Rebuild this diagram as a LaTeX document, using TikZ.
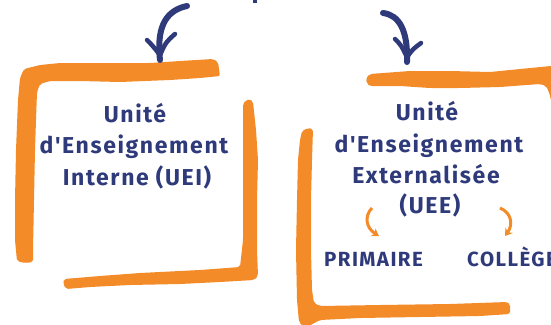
\documentclass[tikz,border=0pt]{standalone}
\usepackage{fontspec}
\usetikzlibrary{arrows.meta}
\newfontfamily\lblfont[LetterSpace=7]{Fira Sans}
\definecolor{navy}{HTML}{2F3A7B}
\definecolor{brush}{HTML}{F48B29}
\tikzset{
  brushshape/.style={fill=brush, draw=none, rounded corners=2pt},
  bigarrow/.style={draw=navy, line width=6pt, line cap=round},
  bigwing/.style={draw=navy, line width=4.5pt, line cap=round},
  smallarrow/.style={draw=brush, line width=3pt, -{Stealth[length=7pt,width=9pt]}},
  title/.style={font=\lblfont\bfseries\fontsize{23}{26}\selectfont, text=navy, anchor=base, inner sep=0pt},
  sub/.style={font=\lblfont\bfseries\fontsize{20.5}{24}\selectfont, text=navy, anchor=base, inner sep=0pt}
}
\begin{document}
\begin{tikzpicture}[x=1pt,y=-1pt]
\useasboundingbox[fill=white] (0,0) rectangle (551,324);
% fragment at top
\fill[navy] (253,0) rectangle (257,3);
% left box
\path[brushshape] (17,261) -- (15,240) -- (15,200) -- (16,150) -- (18,100) -- (20,78) -- (24,69) -- (40,65) -- (60,63) -- (100,63) -- (150,63) -- (180,61) -- (213,59) -- (218,62) -- (220,76) -- (200,78) -- (170,80) -- (120,82) -- (80,81) -- (50,81) -- (40,84) -- (37,92) -- (36,120) -- (35,150) -- (34,200) -- (33,250) -- (33,262) -- (25,263) -- cycle;
\path[brushshape] (245,101) -- (250,99) -- (253,102) -- (256,130) -- (258,160) -- (257,200) -- (257,250) -- (258,276) -- (254,280) -- (220,282) -- (180,284) -- (130,285) -- (90,287) -- (66,289) -- (63,283) -- (64,279) -- (100,276) -- (140,273) -- (200,270) -- (240,267) -- (243,240) -- (243,180) -- (243,130) -- (243,104) -- cycle;
% right box
\path[brushshape] (367,84) -- (366,78) -- (370,74) -- (410,71) -- (450,71) -- (490,72) -- (520,69) -- (551,66) -- (562,66) -- (562,300) -- (555,300) -- (553,110) -- (551,100) -- (549,92) -- (546,86) -- (540,84) -- (500,87) -- (460,88) -- (430,88) -- (400,86) -- (370,86) -- cycle;
\path[brushshape] (302,131) -- (308,128) -- (313,129) -- (312,160) -- (311,200) -- (311,250) -- (312,290) -- (314,303) -- (320,306) -- (380,305) -- (450,304) -- (507,302) -- (510,304) -- (510,314) -- (480,316) -- (420,317) -- (360,318) -- (320,320) -- (305,328) -- (299,322) -- (297,300) -- (296,250) -- (297,200) -- (298,160) -- (300,140) -- cycle;
% left texts
\node[title] (l1) at (135,122) {Unité};
\node[title] (l2) at (134,153) {d'Enseignement};
\node[title] (l3) at (137,185) {Interne (UEI)};
% right texts
\node[title] (r1) at (427,120) {Unité};
\node[title] (r2) at (429,152) {d'Enseignement};
\node[title] (r3) at (426,183) {Externalisée};
\node[title] (r4) at (430,213) {(UEE)};
\node[sub] (prim) at (373.5,266) {PRIMAIRE};
\node[sub, anchor=base west] (coll) at (467,266) {COLLÈGE};
% navy arrows
\coordinate (la) at (187,6);
\coordinate (lt) at (160,55);
\coordinate (lw1) at (147,40);
\coordinate (lw2) at (175,34);
\draw[bigarrow] (la) .. controls (168,10) and (156,24) .. ([yshift=-5pt]lt);
\draw[bigwing] (lw1) .. controls (152,45) .. (lt);
\draw[bigwing] (lw2) .. controls (166,42) .. (lt);
\coordinate (ra) at (383,13);
\coordinate (rt) at (407,57);
\coordinate (rw1) at (395,39);
\coordinate (rw2) at (421,43);
\draw[bigarrow] (ra) .. controls (399,15) and (408,30) .. ([yshift=-5pt]rt);
\draw[bigwing] (rw1) .. controls (401,45) .. (rt);
\draw[bigwing] (rw2) .. controls (413,49) .. (rt);
% small orange arrows
\coordinate (sa) at (372,208);
\coordinate (st) at (379,236);
\draw[smallarrow] (sa) .. controls (364,216) and (366,228) .. (st);
\coordinate (sb) at (500,208);
\coordinate (sbt) at (505,236);
\draw[smallarrow] (sb) .. controls (512,213) and (513,225) .. (sbt);
\end{tikzpicture}
\end{document}
